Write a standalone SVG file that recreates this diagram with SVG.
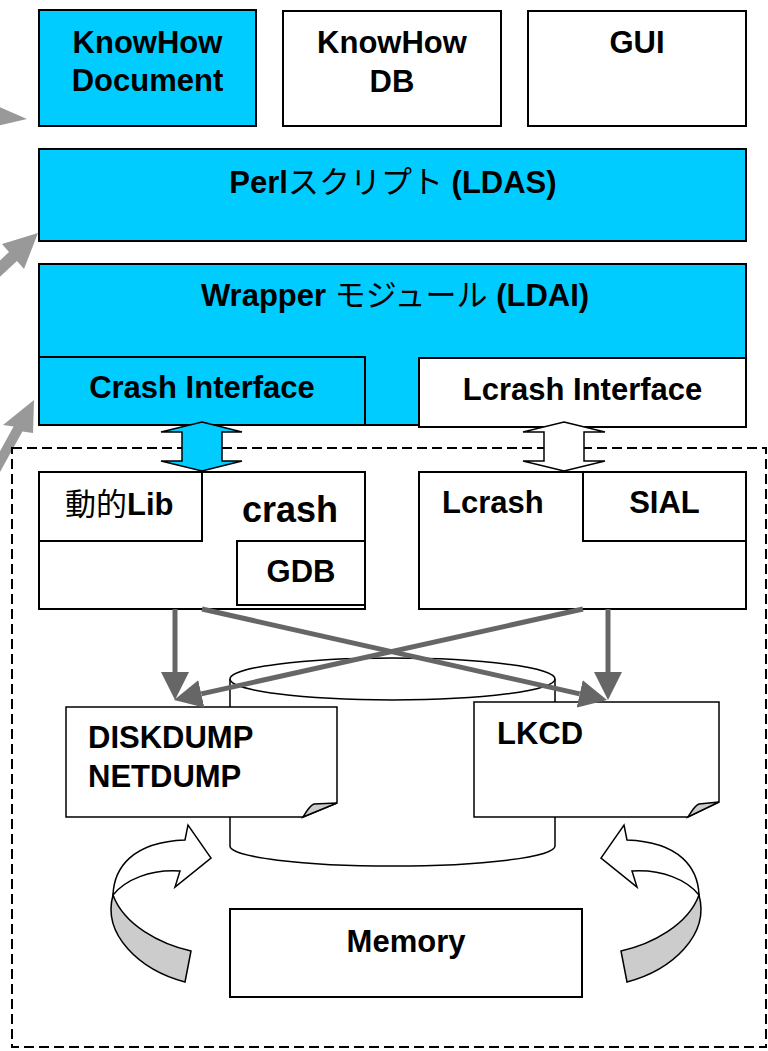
<svg xmlns="http://www.w3.org/2000/svg" width="768" height="1051" viewBox="0 0 768 1051">
<style>
.box{stroke:#000;stroke-width:2}
.blue{fill:#00CCFF}
.white{fill:#fff}
.t{font-family:"Liberation Sans",Arial,"Noto Sans CJK JP",sans-serif;font-weight:bold;font-size:31px;fill:#000}
.jp{font-family:"Noto Sans CJK JP",sans-serif;font-weight:normal}
.mid{text-anchor:middle}
.thin{stroke:#000;stroke-width:1.5}
.conn{stroke:#666;stroke-width:5;fill:none}
.gray{fill:#999}
</style>
<defs>
<marker id="ah" markerUnits="userSpaceOnUse" markerWidth="28" markerHeight="28" refX="0" refY="14" orient="auto">
<path d="M0,0 L28,14 L0,28 Z" fill="#666"/>
</marker>
</defs>
<rect width="768" height="1051" fill="#fff"/>

<g id="external-arrows">
<polygon class="gray" points="27,119 -30,94 -30,132"/>
<polygon class="gray" points="38,233 24,269 17,261 -12,288 -20,279 9,252 2,244"/>
<polygon class="gray" points="34,400 33,433 22.4,431.4 -11.4,492.7 -20.2,487.9 13.6,426.6 3,425"/>
</g>

<g id="boundary">
<rect x="12" y="448" width="754" height="599" fill="none" stroke="#000" stroke-width="2" stroke-dasharray="10,5"/>
</g>

<g id="knowhow-document">
<rect class="box blue" x="39" y="10" width="217" height="116"/>
<text class="t mid" x="147.5" y="53">KnowHow</text>
<text class="t mid" x="147.5" y="91">Document</text>
</g>
<g id="knowhow-db">
<rect class="box white" x="283" y="11" width="218" height="115"/>
<text class="t mid" x="392" y="53">KnowHow</text>
<text class="t mid" x="392" y="92">DB</text>
</g>
<g id="gui">
<rect class="box white" x="528" y="11" width="218" height="115"/>
<text class="t mid" x="637" y="53">GUI</text>
</g>

<g id="perl-script">
<rect class="box blue" x="39" y="149" width="707" height="92"/>
<text class="t mid" x="393" y="193">Perl<tspan class="jp">スクリプト</tspan> (LDAS)</text>
</g>

<g id="wrapper">
<rect class="box blue" x="39" y="264" width="707" height="161"/>
<text class="t mid" x="395" y="306">Wrapper <tspan class="jp">モジュール</tspan> (LDAI)</text>
</g>
<g id="crash-interface">
<rect class="box blue" x="39" y="357" width="326" height="68"/>
<text class="t mid" x="202" y="398">Crash Interface</text>
</g>
<g id="lcrash-interface">
<rect class="box white" x="419" y="358" width="327" height="69"/>
<text class="t mid" x="582.5" y="400">Lcrash Interface</text>
</g>

<g id="crash">
<rect class="box white" x="39" y="472" width="326" height="137"/>
<text class="t" x="242" y="522" style="font-size:36px">crash</text>
</g>
<g id="dynamic-lib">
<rect class="box white" x="39" y="472" width="163" height="69"/>
<text class="t" x="65" y="515"><tspan class="jp">動的</tspan>Lib</text>
</g>
<g id="gdb">
<rect class="box white" x="237" y="541" width="128" height="64"/>
<text class="t mid" x="301" y="582">GDB</text>
</g>

<g id="lcrash">
<rect class="box white" x="419" y="472" width="327" height="137"/>
<text class="t" x="442" y="513">Lcrash</text>
</g>
<g id="sial">
<rect class="box white" x="583" y="472" width="163" height="69"/>
<text class="t mid" x="664.5" y="513">SIAL</text>
</g>

<g id="dump-storage">
<path d="M230,679 V846 A162.5,20 0 0 0 555,846 V679" fill="#fff" stroke="#000" stroke-width="1.5"/>
<ellipse cx="392.5" cy="679" rx="162.5" ry="21" fill="#fff" stroke="#000" stroke-width="1.5"/>
</g>

<g id="diskdump">
<path d="M66,707 H337 V803 L303,817 H66 Z" class="thin" fill="#fff"/>
<path d="M303,817 C307,811 309,806 314,804 L337,803 Z" fill="#ccc" class="thin"/>
<text class="t" x="88" y="748">DISKDUMP</text>
<text class="t" x="88" y="787">NETDUMP</text>
</g>
<g id="lkcd">
<path d="M474,702 H719 V802 L688,817 H474 Z" class="thin" fill="#fff"/>
<path d="M688,817 C692,811 694,806 699,804 L719,802 Z" fill="#ccc" class="thin"/>
<text class="t" x="497" y="744">LKCD</text>
</g>

<g id="memory">
<rect class="box white" x="230" y="909" width="352" height="88"/>
<text class="t mid" x="406" y="952">Memory</text>
</g>

<g id="connectors">
<path d="M202,422 L242,432 L222,432 L222,461 L242,461 L202,471 L161,461 L182,461 L182,432 L161,432 Z" fill="#00CCFF" stroke="#000" stroke-width="1.5"/>
<path d="M564,422 L605,432 L584,432 L584,461 L605,461 L564,471 L523,461 L544,461 L544,432 L523,432 Z" fill="#fff" stroke="#000" stroke-width="1.5"/>
<line class="conn" x1="175" y1="609" x2="175" y2="672" marker-end="url(#ah)"/>
<line class="conn" x1="608" y1="609" x2="608" y2="672" marker-end="url(#ah)"/>
<line class="conn" x1="202" y1="609" x2="579.7" y2="693.9" marker-end="url(#ah)"/>
<line class="conn" x1="583" y1="609" x2="201.3" y2="693.9" marker-end="url(#ah)"/>
</g>

<g id="curved-arrow-left">
<path d="M113,895 C114,868 132,842 185,840 L188,825 L211,858 L175,887 L180,871 C150,869 125,880 113,895 Z" fill="#fff" class="thin"/>
<path d="M113,895 C102,935 140,970 185,982 L191,951 C160,944 124,925 113,895 Z" fill="#ccc" class="thin"/>
</g>
<g id="curved-arrow-right" transform="translate(812,0) scale(-1,1)">
<path d="M113,895 C114,868 132,842 185,840 L188,825 L211,858 L175,887 L180,871 C150,869 125,880 113,895 Z" fill="#fff" class="thin"/>
<path d="M113,895 C102,935 140,970 185,982 L191,951 C160,944 124,925 113,895 Z" fill="#ccc" class="thin"/>
</g>
</svg>
